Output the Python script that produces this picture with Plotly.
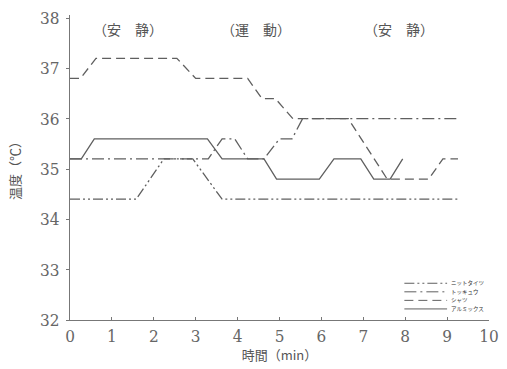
import plotly.graph_objects as go

# Time axis (min) and skin temperature (°C) for each garment
t_knit = [0, 1.58, 2.24, 2.93, 3.63, 9.26]
temp_knit = [34.4, 34.4, 35.2, 35.2, 34.4, 34.4]

t_second = [0, 3.3, 3.63, 3.93, 4.24, 4.63, 5.0, 5.3, 5.55, 9.26]
temp_second = [35.2, 35.2, 35.6, 35.6, 35.2, 35.2, 35.6, 35.6, 36.0, 36.0]

t_shirt = [0, 0.25, 0.62, 2.55, 3.0, 4.24, 4.58, 4.9, 5.32, 6.64, 7.57, 8.56, 8.9, 9.26]
temp_shirt = [36.8, 36.8, 37.2, 37.2, 36.8, 36.8, 36.4, 36.4, 36.0, 36.0, 34.8, 34.8, 35.2, 35.2]

t_almix = [0, 0.27, 0.58, 3.28, 3.63, 4.63, 4.93, 5.95, 6.3, 6.94, 7.25, 7.64, 7.94]
temp_almix = [35.2, 35.2, 35.6, 35.6, 35.2, 35.2, 34.8, 34.8, 35.2, 35.2, 34.8, 34.8, 35.2]

series_names = ["ニットタイツ", "トッキュウ", "シャツ", "アルミックス"]
phase_labels = ["（安　静）", "（運　動）", "（安　静）"]
phase_x = [1.39, 4.45, 7.86]

x_ticks = list(range(0, 11))
y_ticks = list(range(32, 39))

LINE = "#5f5f5f"
SERIF = "DejaVu Serif Condensed, DejaVu Serif"
CJK = "Noto Sans CJK JP"
dashes = [
    "10px,3px,2px,3px,2px,3px",
    "12px,4px,2px,4px",
    "9px,5px",
    "solid",
]

fig = go.Figure()
data = [
    (t_knit, temp_knit),
    (t_second, temp_second),
    (t_shirt, temp_shirt),
    (t_almix, temp_almix),
]
for (xs, ys), name, dash in zip(data, series_names, dashes):
    fig.add_trace(go.Scatter(
        x=xs, y=ys, mode="lines", name=name,
        line=dict(color=LINE, width=1.3, dash=dash),
        showlegend=False, hoverinfo="skip",
    ))

# Small key in the lower right corner
key_rows = [32.73, 32.56, 32.39, 32.22]
for name, dash, yk in zip(series_names, dashes, key_rows):
    fig.add_shape(type="line", xref="x", yref="y",
                  x0=7.98, x1=9.0, y0=yk, y1=yk,
                  line=dict(color=LINE, width=1, dash=dash))
    fig.add_annotation(x=9.04, y=yk, xref="x", yref="y", text=name,
                       showarrow=False, xanchor="left", yanchor="middle",
                       font=dict(family=CJK, size=5.5, color="#333"))

for label, xp in zip(phase_labels, phase_x):
    fig.add_annotation(x=xp, y=37.78, xref="x", yref="y", text=label,
                       showarrow=False, xanchor="center", yanchor="middle",
                       font=dict(family=CJK, size=14, color="#555"))

axis_common = dict(
    showline=True, linecolor="#777", linewidth=1.2,
    ticklen=3, tickcolor="#777",
    showgrid=False, zeroline=False,
    ticklabeloverflow="allow",
    tickfont=dict(family=SERIF, size=17, color="#666"),
)

fig.update_xaxes(range=[0, 10], tickvals=x_ticks, ticktext=[str(v) for v in x_ticks],
                 ticks="inside", ticklabelstandoff=0,
                 title=dict(text="時間（min）", standoff=2,
                            font=dict(family=CJK, size=13, color="#555")),
                 **axis_common)
fig.update_yaxes(range=[32, 38.06], tickvals=y_ticks, ticktext=[str(v) for v in y_ticks],
                 ticks="outside", ticklabelstandoff=3,
                 title=dict(text="温度（℃）", standoff=16,
                            font=dict(family=CJK, size=13, color="#555")),
                 **axis_common)

fig.update_layout(
    width=507, height=369,
    margin=dict(l=70, r=8, t=15, b=49),
    plot_bgcolor="white", paper_bgcolor="white",
    showlegend=False,
)

fig.write_html("out.html")
